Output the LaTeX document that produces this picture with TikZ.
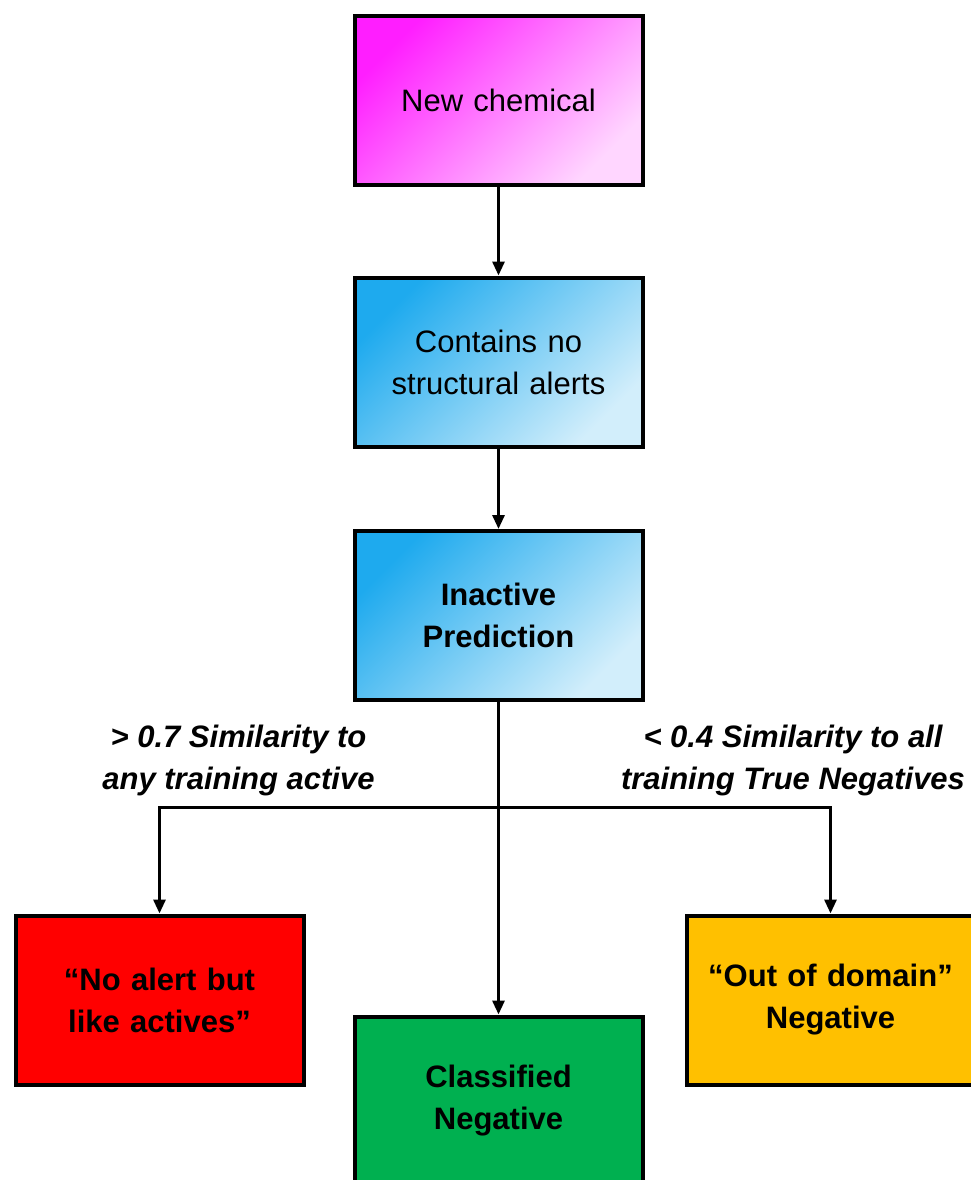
\documentclass[tikz,border=0pt]{standalone}
\usepackage{fontspec}
\setmainfont{Liberation Sans}
\usetikzlibrary{arrows.meta,positioning}

\definecolor{magdark}{HTML}{FF1EFF}
\definecolor{maglight}{HTML}{FFD6FF}
\definecolor{bluedark}{HTML}{1EAAEE}
\definecolor{bluelight}{HTML}{D2EEFB}
\definecolor{alertred}{HTML}{FF0000}
\definecolor{neggreen}{HTML}{00B050}
\definecolor{domorange}{HTML}{FFC000}

\tikzset{
  stepbox/.style={draw=black, line width=4pt, minimum width=288pt, minimum height=169pt,
    align=center, text width=270pt, inner sep=0pt,
    font=\fontsize{31}{42}\selectfont},
  pinkbox/.style={stepbox, top color=magdark, bottom color=maglight, shading angle=45},
  bluebox/.style={stepbox, top color=bluedark, bottom color=bluelight, shading angle=45},
  flatbox/.style={stepbox, font=\fontsize{31}{42}\selectfont\bfseries},
  conn/.style={draw=black, line width=3pt, -{Triangle[length=14pt,width=12pt]}},
  cond/.style={align=center, font=\fontsize{31}{42}\selectfont\bfseries\itshape}
}

\begin{document}
\begin{tikzpicture}[x=1pt,y=-1pt]
  \useasboundingbox (0,0) rectangle (971,1180);
  \clip (0,0) rectangle (971,1180);

  % main column
  \node[pinkbox] (chem) at (498.5,100.5) {New chemical};
  \node[bluebox] (noalert) at (498.5,362) {Contains no\\structural alerts};
  \node[bluebox, font=\fontsize{31}{42}\selectfont\bfseries] (inactive) at (498.5,615.5) {Inactive\\Prediction};

  % outcomes
  \node[flatbox, fill=alertred] (like) at (159.5,1000) {“No alert but\\like actives”};
  \node[flatbox, fill=neggreen] (classified) at (498.5,1101) {Classified\\Negative};
  \node[flatbox, fill=domorange] (domain) at (830.5,1000) {“Out of domain”\\Negative};

  % branch conditions
  \node[cond] (simact) at (238.5,760) {> 0.7 Similarity to\\any training active};
  \node[cond] (simneg) at (793,760) {< 0.4 Similarity to all\\training True Negatives};

  \coordinate (split) at (498.5,807);

  % connectors
  \draw[conn] (chem.south) -- (noalert.north);
  \draw[conn] (noalert.south) -- (inactive.north);
  \draw[conn] (inactive.south) -- (classified.north);
  \draw[conn] (split) -| (like.north);
  \draw[conn] (split) -| (domain.north);
\end{tikzpicture}
\end{document}
